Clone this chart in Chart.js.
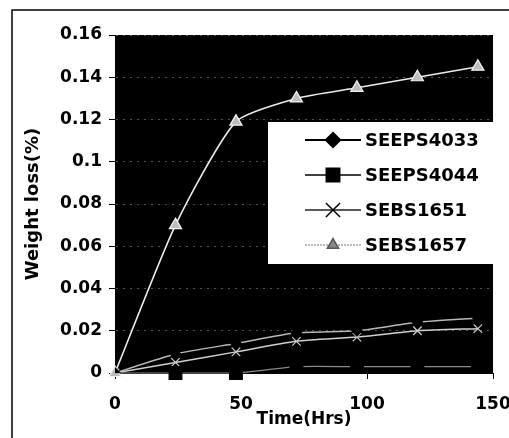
<!DOCTYPE html>
<html><head><meta charset="utf-8">
<script src="https://cdn.jsdelivr.net/npm/chart.js@4.4.1/dist/chart.umd.min.js"></script>
<style>html,body{margin:0;padding:0;background:#fff;}canvas{display:block;}</style>
</head><body><canvas id="c" width="509" height="438"></canvas>
<script>
// ---- data ----
const timeHrs   = [0, 24, 48, 72, 96, 120, 144];
const seeps4033 = [0, 0.009, 0.014, 0.019, 0.020, 0.024, 0.026];
const seeps4044 = [0, 0.000, 0.000, 0.003, 0.003, 0.003, 0.003];
const sebs1651  = [0, 0.005, 0.010, 0.015, 0.017, 0.020, 0.021];
const sebs1657  = [0, 0.070, 0.119, 0.130, 0.135, 0.140, 0.145];
const seriesNames = ['SEEPS4033', 'SEEPS4044', 'SEBS1651', 'SEBS1657'];
const xTickValues = [0, 50, 100, 150];
const xTickLabels = ['0', '50', '100', '150'];
const yTickValues = [0, 0.02, 0.04, 0.06, 0.08, 0.1, 0.12, 0.14, 0.16];
const yTickLabels = ['0', '0.02', '0.04', '0.06', '0.08', '0.1', '0.12', '0.14', '0.16'];
const xTitle = 'Time(Hrs)';
const yTitle = 'Weight loss(%)';

const pts = arr => timeHrs.map((t, i) => ({x: t, y: arr[i]}));

Chart.defaults.font.family = "'DejaVu Sans', 'Liberation Sans', Arial, sans-serif";
Chart.defaults.color = '#000';

const legendStyles = [
  {line: '#000', lw: 2, dash: [], pStyle: 'rectRot', r: 7.5, fill: '#000', stroke: '#000'},
  {line: '#000', lw: 1.5, dash: [], pStyle: 'rect', r: 9.5, fill: '#000', stroke: '#000'},
  {line: '#222', lw: 1.5, dash: [], pStyle: 'crossRot', r: 10, fill: '#000', stroke: '#000'},
  {line: '#777', lw: 1.2, dash: [2, 1], pStyle: 'triangle', r: 6.5, fill: '#888', stroke: '#555'}
];

function drawMarker(ctx, style, r, x, y) {
  if (Chart.helpers && Chart.helpers.drawPoint) {
    Chart.helpers.drawPoint(ctx, {pointStyle: style, radius: r, rotation: 0, borderWidth: ctx.lineWidth}, x, y);
    return;
  }
  ctx.beginPath(); ctx.arc(x, y, r, 0, Math.PI * 2); ctx.fill(); ctx.stroke();
}

const framePlugin = {
  id: 'frame',
  beforeDraw(chart) {
    const {ctx, chartArea: a} = chart;
    ctx.save();
    ctx.fillStyle = '#fff';
    ctx.fillRect(0, 0, chart.width, chart.height);
    ctx.fillStyle = '#000';
    ctx.fillRect(a.left, a.top, a.right - a.left, a.bottom - a.top);
    ctx.strokeStyle = '#000';
    ctx.lineWidth = 1.5;
    ctx.beginPath();
    ctx.moveTo(12, chart.height);
    ctx.lineTo(12, 10);
    ctx.lineTo(chart.width, 10);
    ctx.stroke();
    ctx.restore();
  },
  afterDraw(chart) {
    const ctx = chart.ctx;
    ctx.save();
    const bx = 268, by = 122, bw = chart.width - 268, bh = 142;
    ctx.fillStyle = '#fff';
    ctx.fillRect(bx, by, bw, bh);
    ctx.font = "bold 18px 'DejaVu Sans', 'Liberation Sans', sans-serif";
    ctx.textBaseline = 'middle';
    ctx.textAlign = 'left';
    chart.data.datasets.forEach((ds, i) => {
      const s = legendStyles[i];
      const y = 140 + i * 35;
      ctx.strokeStyle = s.line;
      ctx.lineWidth = s.lw;
      ctx.setLineDash(s.dash);
      ctx.beginPath(); ctx.moveTo(305, y); ctx.lineTo(361, y); ctx.stroke();
      ctx.setLineDash([]);
      ctx.fillStyle = s.fill;
      ctx.strokeStyle = s.stroke;
      ctx.lineWidth = 1.5;
      drawMarker(ctx, s.pStyle, s.r, 333, y);
      ctx.fillStyle = '#000';
      ctx.fillText(ds.label, 365, y + 1);
    });
    ctx.restore();
  }
};

new Chart(document.getElementById('c'), {
  type: 'line',
  data: {
    datasets: [
      {label: seriesNames[0], data: pts(seeps4033), borderColor: '#b8b8b8', borderWidth: 1.5,
       pointStyle: 'rectRot', pointRadius: 5, pointBackgroundColor: '#000', pointBorderColor: '#000', tension: 0.2},
      {label: seriesNames[1], data: pts(seeps4044), borderColor: '#8a8a8a', borderWidth: 1.2,
       pointStyle: 'rect', pointRadius: [0, 9, 9, 9, 9, 9, 9], pointBackgroundColor: '#000', pointBorderColor: '#000', tension: 0.2, clip: false},
      {label: seriesNames[2], data: pts(sebs1651), borderColor: '#cfcfcf', borderWidth: 1.5,
       pointStyle: 'crossRot', pointRadius: 6, pointBorderColor: '#cfcfcf', pointBorderWidth: 1.2, tension: 0.2},
      {label: seriesNames[3], data: pts(sebs1657), borderColor: '#ececec', borderWidth: 1.6,
       pointStyle: 'triangle', pointRadius: 7, pointBackgroundColor: '#bdbdbd', pointBorderColor: '#f4f4f4', pointBorderWidth: 1.2, tension: 0.2, clip: false}
    ]
  },
  options: {
    responsive: false,
    animation: false,
    devicePixelRatio: 1,
    layout: {padding: {top: 35, right: 16, left: 0, bottom: 0}},
    plugins: {legend: {display: false}, tooltip: {enabled: false}},
    scales: {
      x: {
        type: 'linear', min: 0, max: 150,
        afterBuildTicks: s => { s.ticks = xTickValues.map(v => ({value: v})); },
        afterFit: s => { s.height = 65; s.paddingLeft = 0; s.paddingRight = 0; },
        ticks: {font: {size: 17, weight: 'bold'}, padding: 15, maxRotation: 0,
                callback: (v, i) => xTickLabels[i]},
        grid: {drawOnChartArea: false, tickLength: 6, color: '#000', tickColor: '#000'},
        border: {color: '#000'},
        title: {display: true, text: xTitle, font: {size: 17, weight: 'bold'}, padding: {top: 0, bottom: 8}}
      },
      y: {
        type: 'linear', min: 0, max: 0.16,
        afterBuildTicks: s => { s.ticks = yTickValues.map(v => ({value: v})); },
        afterFit: s => { s.width = 115; s.paddingTop = 0; s.paddingBottom = 0; },
        ticks: {font: {size: 17, weight: 'bold'}, padding: 7,
                callback: (v, i) => yTickLabels[i]},
        grid: {color: 'rgba(150,150,150,0.55)', tickColor: '#000', tickLength: 6, lineWidth: 1},
        border: {color: '#000', dash: [2, 5]},
        title: {display: true, text: yTitle, font: {size: 18, weight: 'bold'}, padding: {top: 23, bottom: 0}}
      }
    }
  },
  plugins: [framePlugin]
});
</script>
</body></html>
